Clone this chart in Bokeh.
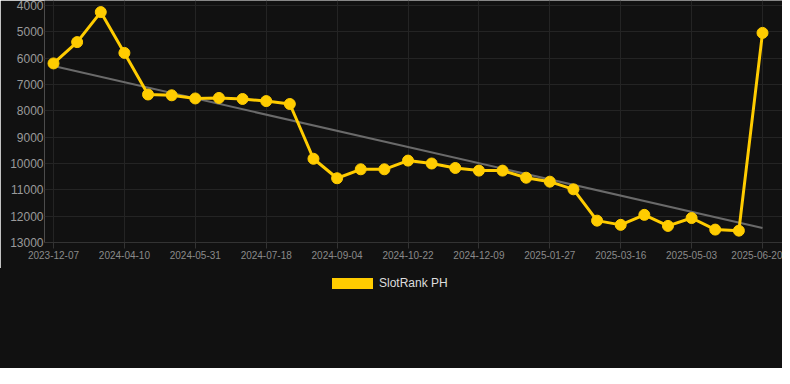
import numpy as np
from bokeh.plotting import figure
from bokeh.layouts import column
from bokeh.models import Range1d, FixedTicker, Div
from bokeh.embed import file_html
from bokeh.resources import INLINE

# ---- data ----
tick_labels = ["2023-12-07", "2024-04-10", "2024-05-31", "2024-07-18", "2024-09-04",
               "2024-10-22", "2024-12-09", "2025-01-27", "2025-03-16", "2025-05-03",
               "2025-06-20"]
ranks = [6200, 5390, 4250, 5800, 7380, 7410, 7530, 7510, 7550, 7630, 7740,
         9820, 10560, 10220, 10220, 9890, 10000, 10170, 10270, 10270, 10540,
         10690, 10980, 12170, 12330, 11950, 12370, 12070, 12510, 12550, 5040]
trend_values = [6300, 12450]
series_name = "SlotRank PH"
y_ticks = [4000, 5000, 6000, 7000, 8000, 9000, 10000, 11000, 12000, 13000]

YELLOW = "#FFCC00"
BG = "#111111"
GRID = "#242424"

x = list(range(len(ranks)))
tick_pos = list(range(0, len(ranks), 3))

W, H1, H2 = 782, 268, 100
LEFT = 44
p = figure(width=W, height=H1, output_backend="svg", toolbar_location=None,
           x_range=Range1d(-0.381, 30.846), y_range=Range1d(13000, 3810),
           min_border_left=LEFT, min_border_right=0, min_border_top=0,
           min_border_bottom=H1 - 242,
           background_fill_color=BG, border_fill_color=BG)
p.outline_line_color = None

# grids
p.xgrid.grid_line_color = GRID
p.ygrid.grid_line_color = GRID
p.xgrid.ticker = FixedTicker(ticks=tick_pos)
p.ygrid.ticker = FixedTicker(ticks=y_ticks)

# y axis
p.yaxis.ticker = FixedTicker(ticks=y_ticks)
p.yaxis.axis_line_color = None
p.yaxis.major_tick_line_color = None
p.yaxis.minor_tick_line_color = None
p.yaxis.major_tick_out = 0
p.yaxis.major_label_text_color = "#9a9a9a"
p.yaxis.major_label_text_font = "Liberation Sans"
p.yaxis.major_label_text_font_size = "12px"
p.yaxis.major_label_standoff = 1

# x axis
p.xaxis.ticker = FixedTicker(ticks=tick_pos)
p.xaxis.major_label_overrides = {pos: lab for pos, lab in zip(tick_pos, tick_labels)}
p.xaxis.axis_line_color = "#333333"
p.xaxis.major_tick_line_color = "#333333"
p.xaxis.major_tick_in = 0
p.xaxis.major_tick_out = 6
p.xaxis.minor_tick_line_color = None
p.xaxis.major_label_text_color = "#8a8a8a"
p.xaxis.major_label_text_font = "Liberation Sans"
p.xaxis.major_label_text_font_size = "10px"
p.xaxis.major_label_standoff = 2

# trend line
p.line([x[0], x[-1]], trend_values, line_color="#6a6a6a", line_width=2)

# series
p.line(x, ranks, line_color=YELLOW, line_width=3, line_join="round")
p.scatter(x, ranks, size=11, fill_color=YELLOW, line_color=YELLOW)

# ---- legend strip (HTML) ----
legend_html = (
    '<div style="position:relative;width:%dpx;height:%dpx;">'
    '<span style="position:absolute;left:332px;top:10px;width:41px;height:11px;'
    'background:%s;"></span>'
    '<span style="position:absolute;left:379px;top:8px;color:#dddddd;'
    'font-family:\'Liberation Sans\',Arial,sans-serif;font-size:12px;line-height:14px;'
    'white-space:nowrap;">%s</span></div>'
) % (W, H2, YELLOW, series_name)
legend_div = Div(text=legend_html, width=W, height=H2,
                 styles={"background-color": BG, "margin": "0", "padding": "0"})

layout = column(p, legend_div, spacing=0)
open("out.html", "w").write(file_html(layout, INLINE))
